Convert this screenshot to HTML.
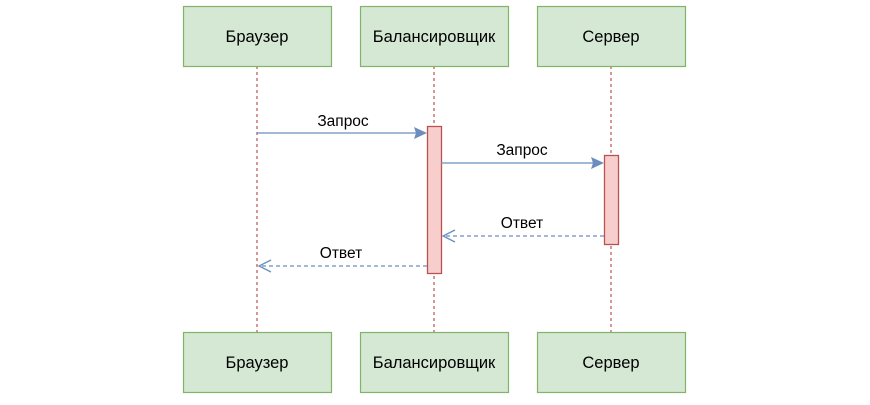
<!DOCTYPE html>
<html><head><meta charset="utf-8"><style>body{margin:0;background:#fff}</style></head><body>
<svg width="870" height="400" xmlns="http://www.w3.org/2000/svg" font-family="Liberation Sans, sans-serif">
<g stroke="#b85450" stroke-dasharray="3,3" stroke-width="1.2">
<line x1="257" y1="66" x2="257" y2="332"/><line x1="434" y1="66" x2="434" y2="332"/><line x1="611" y1="66" x2="611" y2="332"/>
</g>
<g fill="#d5e8d4" stroke="#82b366" stroke-width="1.2">
<rect x="183.5" y="6.5" width="148" height="60"/><rect x="360.5" y="6.5" width="148" height="60"/><rect x="537.5" y="6.5" width="148" height="60"/>
<rect x="183.5" y="332.5" width="148" height="60"/><rect x="360.5" y="332.5" width="148" height="60"/><rect x="537.5" y="332.5" width="148" height="60"/>
</g>
<g font-size="16.5" text-anchor="middle" fill="#000">
<text x="257" y="42">Браузер</text><text x="434" y="42">Балансировщик</text><text x="611" y="42">Сервер</text>
<text x="257" y="368">Браузер</text><text x="434" y="368">Балансировщик</text><text x="611" y="368">Сервер</text>
</g>
<g fill="#f8cecc" stroke="#b85450" stroke-width="1.3">
<rect x="427.5" y="126.5" width="14" height="147"/><rect x="604.5" y="155.5" width="14" height="89"/>
</g>
<g stroke="#6c8ebf" stroke-width="1.3" fill="none">
<line x1="257" y1="133" x2="416" y2="133"/><line x1="441" y1="163" x2="593" y2="163"/>
<line x1="604" y1="236" x2="443" y2="236" stroke-dasharray="4,3"/><polyline points="455,230 443,236 455,242"/>
<line x1="427" y1="266" x2="259" y2="266" stroke-dasharray="4,3"/><polyline points="271,260 259,266 271,272"/>
</g>
<g fill="#6c8ebf"><polygon points="427,133 414,127 416,133 414,139"/><polygon points="604,163 591,157 593,163 591,169"/></g>
<g font-size="15.5" text-anchor="middle" fill="#000">
<text x="343" y="126">Запрос</text><text x="522" y="155">Запрос</text><text x="522" y="228">Ответ</text><text x="341" y="258">Ответ</text>
</g>
</svg>
</body></html>
